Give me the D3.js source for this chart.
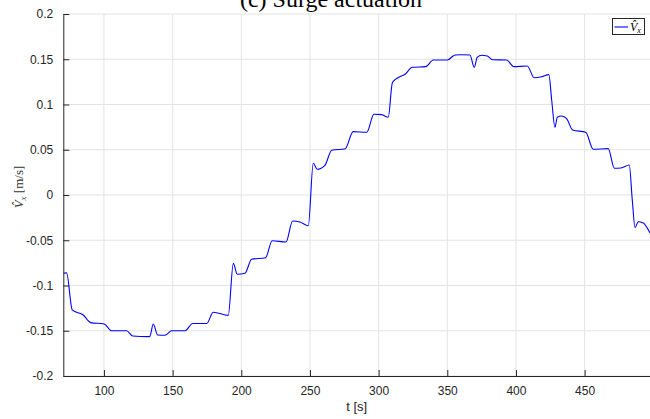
<!DOCTYPE html>
<html>
<head>
<meta charset="utf-8">
<script src="https://cdn.jsdelivr.net/npm/d3@7"></script>
<style>
  html, body { margin: 0; padding: 0; background: #fff; }
  svg { display: block; }
</style>
</head>
<body>
<div id="chart"></div>
<script>
// Estimated surge velocity V_x over time
const time = [70.4, 72.8, 76.9, 84.9, 90.3, 100.2, 105.6, 116.5, 120.9, 132.3, 133.5, 135.9, 139.1, 144.4,
  149.3, 159.0, 164.6, 174.8, 179.6, 190.5, 194.2, 197.1, 202.7, 207.5, 217.7, 222.5, 232.5, 237.4,
  242.7, 248.8, 252.4, 255.3, 260.9, 265.8, 275.7, 281.5, 291.3, 296.6, 302.2, 307.0, 310.0, 312.5,
  315.5, 319.2, 324.5, 334.3, 339.8, 350.0, 355.6, 360.5, 366.5, 369.6, 371.8, 375.0, 379.1, 383.0,
  393.2, 398.5, 408.2, 413.3, 418.7, 424.0, 426.0, 428.4, 430.1, 433.3, 436.9, 441.3, 450.8, 456.3,
  467.2, 471.6, 476.5, 482.5, 484.7, 486.7, 489.1, 492.7, 497.6];
const vx = [-0.0865, -0.086, -0.127, -0.1326, -0.141, -0.1425, -0.150, -0.150, -0.1558, -0.1565, -0.156, -0.1426, -0.1547, -0.155,
  -0.150, -0.150, -0.142, -0.142, -0.1296, -0.133, -0.0755, -0.0876, -0.0865, -0.071, -0.0693, -0.0505, -0.052, -0.0287,
  -0.0298, -0.034, 0.035, 0.0284, 0.0328, 0.0494, 0.0512, 0.070, 0.0693, 0.0892, 0.0888, 0.0859, 0.124, 0.128,
  0.1307, 0.1334, 0.1411, 0.1418, 0.1492, 0.1492, 0.1547, 0.155, 0.1547, 0.141, 0.152, 0.1544, 0.1536, 0.1495,
  0.1492, 0.1418, 0.1425, 0.1296, 0.1307, 0.133, 0.105, 0.0748, 0.0859, 0.0873, 0.0843, 0.0718, 0.0693, 0.0505,
  0.0512, 0.0295, 0.0298, 0.0331, -0.0055, -0.036, -0.0295, -0.031, -0.042];

const xTicks = [100, 150, 200, 250, 300, 350, 400, 450];
const yTicks = [-0.2, -0.15, -0.1, -0.05, 0, 0.05, 0.1, 0.15, 0.2];
const yTickLabels = ["-0.2", "-0.15", "-0.1", "-0.05", "0", "0.05", "0.1", "0.15", "0.2"];

const width = 650, height = 419;
const plotLeft = 63.3, plotRight = 650, plotTop = 14, plotBottom = 376;

const svg = d3.select("#chart").append("svg")
  .attr("width", width)
  .attr("height", height);

const x = d3.scaleLinear().domain([70.4, 497.6]).range([plotLeft, plotRight]);
const y = d3.scaleLinear().domain([-0.2, 0.2]).range([plotBottom, plotTop]);

// grid
svg.append("g").selectAll("line").data(xTicks).join("line")
  .attr("x1", d => x(d)).attr("x2", d => x(d))
  .attr("y1", plotTop).attr("y2", plotBottom)
  .attr("stroke", "#e3e3e3").attr("stroke-width", 1);
svg.append("g").selectAll("line").data(yTicks).join("line")
  .attr("x1", plotLeft).attr("x2", plotRight)
  .attr("y1", d => y(d)).attr("y2", d => y(d))
  .attr("stroke", "#e3e3e3").attr("stroke-width", 1);

// data line
svg.append("clipPath").attr("id", "clip")
  .append("rect").attr("x", plotLeft).attr("y", plotTop)
  .attr("width", plotRight - plotLeft).attr("height", plotBottom - plotTop);

const pts = time.map((t, i) => [t, vx[i]]);
const line = d3.line()
  .x(d => x(d[0]))
  .y(d => y(d[1]))
  .curve(d3.curveMonotoneX);

svg.append("path")
  .datum(pts)
  .attr("clip-path", "url(#clip)")
  .attr("d", line)
  .attr("fill", "none")
  .attr("stroke", "#0000ff")
  .attr("stroke-width", 1.1);

// axes (MATLAB style: ticks inside)
const xAxis = d3.axisBottom(x).tickValues(xTicks).tickSizeInner(-6).tickSizeOuter(0).tickPadding(10);
const yAxis = d3.axisLeft(y).tickValues(yTicks).tickFormat((d, i) => yTickLabels[i])
  .tickSizeInner(-6).tickSizeOuter(0).tickPadding(10);

const gx = svg.append("g").attr("transform", `translate(0,${plotBottom})`).call(xAxis);
const gy = svg.append("g").attr("transform", `translate(${plotLeft},0)`).call(yAxis);

[gx, gy].forEach(g => {
  g.select(".domain").attr("stroke", "#262626");
  g.selectAll(".tick line").attr("stroke", "#262626");
  g.selectAll("text")
    .attr("fill", "#262626")
    .style("font-family", "'Liberation Sans', Arial, sans-serif")
    .style("font-size", "12px");
});

// x label
svg.append("text")
  .attr("x", (plotLeft + plotRight) / 2)
  .attr("y", 411)
  .attr("text-anchor", "middle")
  .attr("fill", "#262626")
  .style("font-family", "'Liberation Sans', Arial, sans-serif")
  .style("font-size", "13px")
  .text("t [s]");

// y label (LaTeX-like)
const yl = svg.append("text")
  .attr("transform", "translate(23,187) rotate(-90)")
  .attr("text-anchor", "middle")
  .attr("fill", "#333")
  .style("font-family", "'Liberation Serif', 'Times New Roman', serif")
  .style("font-size", "13px");
yl.append("tspan").style("font-style", "italic").text("V\u0302");
yl.append("tspan").style("font-style", "italic").style("font-size", "9px").attr("dy", 3).text("x");
yl.append("tspan").attr("dy", -3).text(" [m/s]");

// title (partly cut at top edge, as in the reference)
svg.append("text")
  .attr("x", 331)
  .attr("y", 7)
  .attr("text-anchor", "middle")
  .attr("fill", "#000")
  .style("font-family", "'Liberation Serif', 'Times New Roman', serif")
  .style("font-size", "24px")
  .text("(c) Surge actuation");

// legend
const lg = svg.append("g");
lg.append("rect")
  .attr("x", 612.5).attr("y", 18.5).attr("width", 32).attr("height", 16)
  .attr("fill", "#fff").attr("stroke", "#262626").attr("stroke-width", 1);
lg.append("line")
  .attr("x1", 614.5).attr("x2", 628).attr("y1", 27).attr("y2", 27)
  .attr("stroke", "#0000ff").attr("stroke-width", 1.1);
const lt = lg.append("text")
  .attr("x", 630).attr("y", 31)
  .attr("fill", "#000")
  .style("font-family", "'Liberation Serif', 'Times New Roman', serif")
  .style("font-size", "12px");
lt.append("tspan").style("font-style", "italic").text("V\u0302");
lt.append("tspan").style("font-style", "italic").style("font-size", "8px").attr("dy", 2).text("x");
</script>
</body>
</html>
